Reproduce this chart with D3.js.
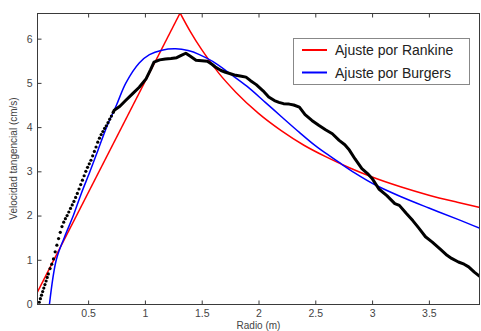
<!DOCTYPE html>
<html>
<head>
<meta charset="utf-8">
<script src="https://cdn.jsdelivr.net/npm/d3@7"></script>
<style>
  body { margin: 0; background: #fff; }
  svg { display: block; font-family: "Liberation Sans", Arial, sans-serif; }
</style>
</head>
<body>
<div id="chart"></div>
<script>
// measured profile (dots + thick line)
const dataR = [0.07,0.08,0.09,0.1,0.11,0.12,0.13,0.14,0.15,0.165,0.18,0.195,0.21,0.225,0.24,0.255,0.27,0.285,0.3,0.315,0.33,0.345,0.36,0.375,0.39,0.405,0.42,0.435,0.45,0.465,0.48,0.495,0.51,0.525,0.54,0.555,0.57,0.585,0.6,0.615,0.63,0.645,0.66,0.675,0.69,0.705,0.72,
  0.73,0.78,0.83,0.89,0.95,1.01,1.05,1.08,1.13,1.18,1.23,1.28,1.32,1.36,1.4,1.45,1.5,1.55,1.59,1.62,1.67,1.71,1.76,1.8,1.85,1.89,1.93,1.98,2.04,2.09,2.14,2.18,2.22,2.27,2.31,2.36,2.41,2.47,2.53,2.59,2.65,2.71,2.76,2.8,2.85,2.91,2.96,3.0,3.06,3.13,3.2,3.24,3.3,3.36,3.41,3.47,3.53,3.6,3.66,3.7,3.76,3.81,3.85,3.9,3.95];
const dataV = [0.04,0.12,0.2,0.28,0.36,0.44,0.52,0.6,0.68,0.8,0.9,1.02,1.18,1.33,1.48,1.62,1.75,1.85,1.93,2.0,2.08,2.16,2.24,2.32,2.41,2.5,2.6,2.7,2.8,2.9,3.0,3.09,3.17,3.25,3.35,3.45,3.55,3.66,3.75,3.83,3.9,3.97,4.03,4.1,4.18,4.25,4.33,
  4.38,4.47,4.6,4.75,4.9,5.09,5.3,5.47,5.52,5.54,5.55,5.57,5.62,5.67,5.6,5.51,5.5,5.49,5.42,5.36,5.28,5.24,5.2,5.17,5.15,5.13,5.05,4.96,4.82,4.68,4.6,4.56,4.53,4.52,4.5,4.45,4.28,4.15,4.04,3.94,3.85,3.7,3.6,3.48,3.28,3.06,2.95,2.84,2.6,2.45,2.27,2.23,2.05,1.88,1.72,1.52,1.4,1.24,1.1,1.03,0.95,0.9,0.84,0.72,0.62];
const dotsUntil = 0.72;

// Rankine fit
const rankR = [0.05,1.31,1.4,1.5,1.65,1.8,2.0,2.2,2.4,2.6,2.8,3.0,3.25,3.5,3.75,3.95];
const rankV = [0.25,6.58,6.16,5.75,5.22,4.79,4.31,3.92,3.59,3.32,3.08,2.87,2.65,2.46,2.3,2.18];

// Burgers fit
const burgR = [0.16,0.22,0.29,0.37,0.44,0.517,0.59,0.663,0.75,0.833,0.95,1.04,1.15,1.27,1.38,1.48,1.6,1.77,1.9,2.06,2.2,2.36,2.5,2.62,2.71,2.85,3.03,3.25,3.5,3.75,3.95];
const burgV = [0,1.0,1.5,2.0,2.5,3.0,3.5,4.0,4.5,5.0,5.45,5.64,5.74,5.77,5.73,5.64,5.48,5.17,4.92,4.56,4.24,3.88,3.58,3.36,3.2,2.96,2.69,2.43,2.17,1.92,1.71];

const xTicks = [0.5,1,1.5,2,2.5,3,3.5];
const yTicks = [0,1,2,3,4,5,6];
const legendNames = ["Ajuste por Rankine", "Ajuste por Burgers"];
const legendColors = ["#ff0000", "#0000ff"];

const W = 481, H = 331;
const m = { left: 37, right: 1, top: 13, bottom: 27 };

const svg = d3.select("#chart").append("svg")
    .attr("width", W).attr("height", H);

const x = d3.scaleLinear().domain([0.05, 3.95]).range([m.left, W - m.right]);
const y = d3.scaleLinear().domain([0, 6.58]).range([H - m.bottom, m.top]);

svg.append("clipPath").attr("id", "clip")
  .append("rect")
    .attr("x", m.left).attr("y", m.top)
    .attr("width", W - m.right - m.left).attr("height", H - m.bottom - m.top);

const zip = (a, b) => a.map((d, i) => [d, b[i]]);
const line = d3.line().x(d => x(d[0])).y(d => y(d[1]));

const plot = svg.append("g").attr("clip-path", "url(#clip)");

// red: straight rise, curved decay
const rank = zip(rankR, rankV);
const peakIdx = rankV.indexOf(d3.max(rankV));
plot.append("path")
    .attr("d", line(rank.slice(0, peakIdx + 1)))
    .attr("fill", "none").attr("stroke", legendColors[0]).attr("stroke-width", 1.5);
plot.append("path")
    .attr("d", line.curve(d3.curveMonotoneX)(rank.slice(peakIdx)))
    .attr("fill", "none").attr("stroke", legendColors[0]).attr("stroke-width", 1.5);

// blue
plot.append("path")
    .attr("d", d3.line().x(d => x(d[0])).y(d => y(d[1])).curve(d3.curveCatmullRom)(zip(burgR, burgV)))
    .attr("fill", "none").attr("stroke", legendColors[1]).attr("stroke-width", 1.5);

// black data
const meas = zip(dataR, dataV);
plot.append("path")
    .attr("d", d3.line().x(d => x(d[0])).y(d => y(d[1])).curve(d3.curveLinear)(meas.filter(d => d[0] >= dotsUntil)))
    .attr("fill", "none").attr("stroke", "#000").attr("stroke-width", 3)
    .attr("stroke-linejoin", "round");
plot.selectAll("circle.dot")
    .data(meas.filter(d => d[0] <= dotsUntil))
  .enter().append("circle")
    .attr("class", "dot")
    .attr("cx", d => x(d[0])).attr("cy", d => y(d[1]))
    .attr("r", 1.6).attr("fill", "#000");

// axes box + inward ticks
const axisCol = "#3a3a3a";
const tl = 4;
svg.append("rect")
    .attr("x", m.left + 0.5).attr("y", m.top + 0.5)
    .attr("width", W - m.right - m.left - 1).attr("height", H - m.bottom - m.top)
    .attr("fill", "none").attr("stroke", axisCol).attr("stroke-width", 1);

const xAxis = svg.append("g")
    .attr("transform", `translate(0,${H - m.bottom + 0.5})`)
    .call(d3.axisBottom(x).tickValues(xTicks).tickSize(-tl).tickPadding(5).tickFormat(d3.format("")));
const xTop = svg.append("g")
    .attr("transform", `translate(0,${m.top + 0.5})`)
    .call(d3.axisTop(x).tickValues(xTicks).tickSize(-tl).tickFormat(""));
const yAxis = svg.append("g")
    .attr("transform", `translate(${m.left + 0.5},0)`)
    .call(d3.axisLeft(y).tickValues(yTicks).tickSize(-tl).tickPadding(5).tickFormat(d3.format("")));

[xAxis, xTop, yAxis].forEach(g => {
  g.select(".domain").remove();
  g.selectAll(".tick line").attr("stroke", axisCol);
  g.selectAll(".tick text").attr("fill", "#444").style("font-size", "10.5px")
    .style("font-family", "'Liberation Sans', Arial, sans-serif");
});

svg.append("text")
    .attr("x", (m.left + W - m.right) / 2).attr("y", 329)
    .attr("text-anchor", "middle")
    .attr("fill", "#444").style("font-size", "10px")
    .text("Radio (m)");

svg.append("text")
    .attr("transform", `translate(17,${(m.top + H - m.bottom) / 2}) rotate(-90)`)
    .attr("text-anchor", "middle")
    .attr("fill", "#444").style("font-size", "10px")
    .text("Velocidad tangencial (cm/s)");

// legend
const lg = svg.append("g").attr("transform", "translate(293,38)");
lg.append("rect")
    .attr("x", 0.5).attr("y", 0.5).attr("width", 176).attr("height", 46)
    .attr("fill", "#fff").attr("stroke", "#888");
legendNames.forEach((name, i) => {
  const yy = 12 + i * 22.5;
  lg.append("line")
      .attr("x1", 9).attr("x2", 34).attr("y1", yy).attr("y2", yy)
      .attr("stroke", legendColors[i]).attr("stroke-width", 2);
  lg.append("text")
      .attr("x", 42).attr("y", yy + 5)
      .attr("fill", "#222").style("font-size", "14px")
      .text(name);
});
</script>
</body>
</html>
